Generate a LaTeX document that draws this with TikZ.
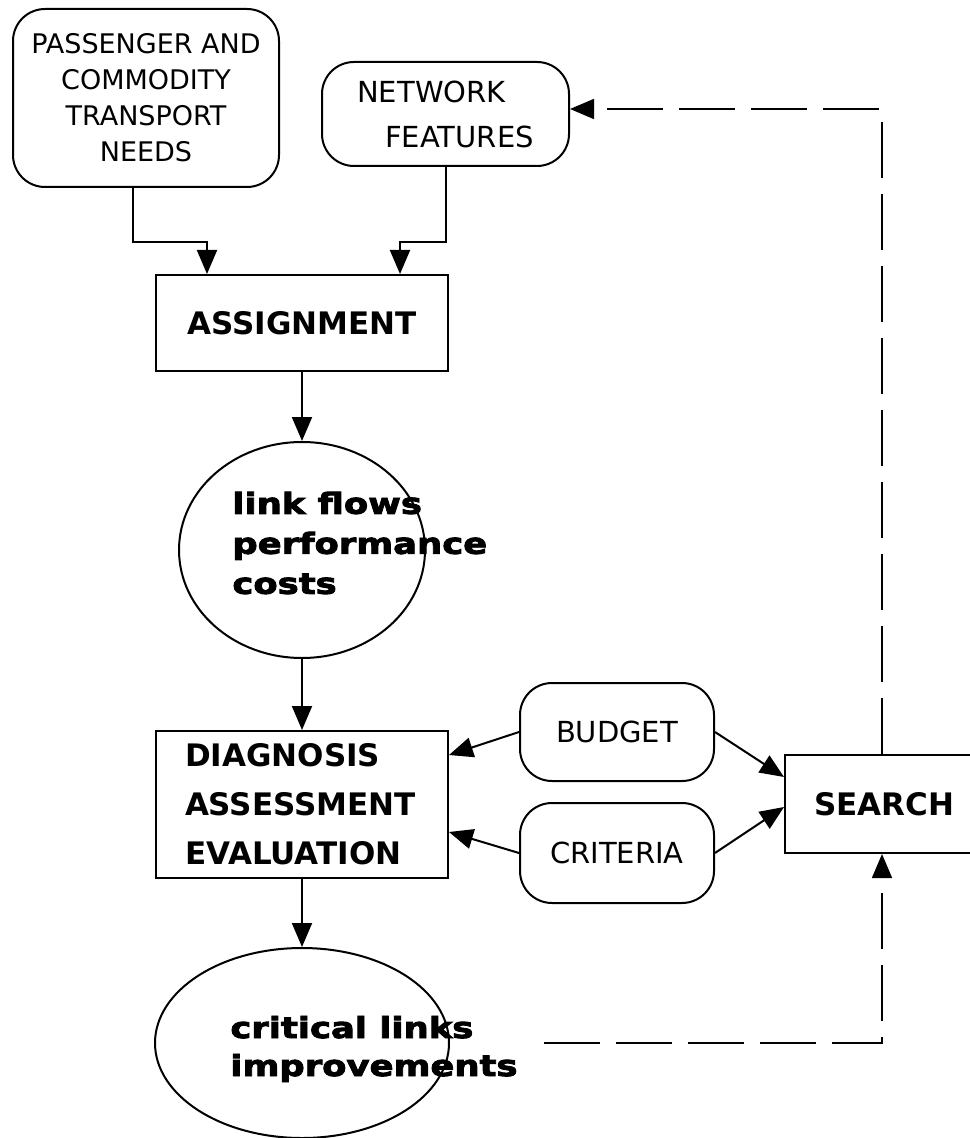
\documentclass[tikz,border=0pt]{standalone}
\usepackage{fontspec}
\setmainfont{DejaVu Sans}
\newfontfamily\flowfont[FakeStretch=1.22,BoldFeatures={FakeBold=3}]{DejaVu Sans}
\usetikzlibrary{arrows.meta,shapes.geometric}

\begin{document}
\begin{tikzpicture}[x=0.5pt, y=-0.5pt,
    rbox/.style={draw, line width=1pt, rounded corners=16pt, align=center, inner sep=0pt},
    sbox/.style={draw, line width=1pt, inner sep=0pt},
    blob/.style={draw, line width=1pt, ellipse, inner sep=0pt},
    plain/.style={font=\fontsize{14.5}{22.5}\selectfont},
    heavy/.style={font=\bfseries\fontsize{15.5}{24.5}\selectfont},
    flow/.style={line width=1pt, -{Triangle[length=12pt,width=10pt]}},
    back/.style={line width=0.8pt, dash pattern=on 28pt off 8pt,
        -{Triangle[length=12pt,width=10pt]}}]
    \useasboundingbox[fill=white] (0,0) rectangle (969,1138);

    % inputs
    \node[rbox, minimum width=133pt, minimum height=89pt,
        font=\fontsize{13.5}{18}\selectfont] (needs) at (146,98)
        {PASSENGER AND\\COMMODITY\\TRANSPORT\\NEEDS};
    \node[rbox, plain, align=left, minimum width=123.5pt, minimum height=52pt]
        (net) at (445.5,114) {NETWORK\\\hspace*{14pt}FEATURES};

    % main chain
    \node[sbox, heavy, minimum width=146pt, minimum height=48pt] (assign)
        at (302,323) {ASSIGNMENT};
    \node[blob, minimum width=123pt, minimum height=108pt] (flows) at (302,550) {};
    \node[anchor=west, align=left, inner sep=0pt,
        font=\flowfont\bfseries\fontsize{14.5}{20}\selectfont]
        (flowstxt) at (232,543) {link flows\\performance\\costs};
    \node[sbox, heavy, align=left, text width=117pt, inner xsep=14.5pt,
        minimum height=73.5pt] (diag) at (302,804.5)
        {DIAGNOSIS\\ASSESSMENT\\EVALUATION};
    \node[blob, minimum width=147pt, minimum height=95pt] (crit) at (302,1043) {};
    \node[anchor=west, align=left, inner sep=0pt,
        font=\flowfont\bfseries\fontsize{14.5}{19}\selectfont]
        (crittxt) at (230,1049) {critical links\\improvements};

    % side boxes
    \node[rbox, plain, minimum width=97pt, minimum height=49pt] (budget)
        at (617,732) {BUDGET};
    \node[rbox, plain, minimum width=97pt, minimum height=50pt] (criteria)
        at (617,853) {CRITERIA};
    \node[sbox, heavy, minimum width=99.5pt, minimum height=49pt] (search)
        at (884.5,804) {SEARCH};

    \coordinate (jogA) at (207,242);
    \coordinate (jogB) at (400,242);

    \draw[flow] ([xshift=-6.5pt]needs.south) |- (jogA) -- (assign.north -| jogA);
    \draw[flow] (net.south) |- (jogB) -- (assign.north -| jogB);
    \draw[flow] (assign.south) -- (flows.north);
    \draw[flow] (flows.south) -- (diag.north);
    \draw[flow] (diag.south) -- (crit.north);
    \draw[flow] (budget.west) -- ([yshift=24.75pt]diag.east);
    \draw[flow] (criteria.west) -- ([yshift=-13.75pt]diag.east);
    \draw[flow] (budget.east) -- ([yshift=13.5pt]search.west);
    \draw[flow] (criteria.east) -- ([yshift=-1.5pt]search.west);

    % feedback
    \draw[back] ([xshift=-1.25pt]search.north) |- ([yshift=2.5pt]net.east);
    \draw[back] ([xshift=47pt]crit.east) -| ([xshift=-1.25pt]search.south);
\end{tikzpicture}
\end{document}
